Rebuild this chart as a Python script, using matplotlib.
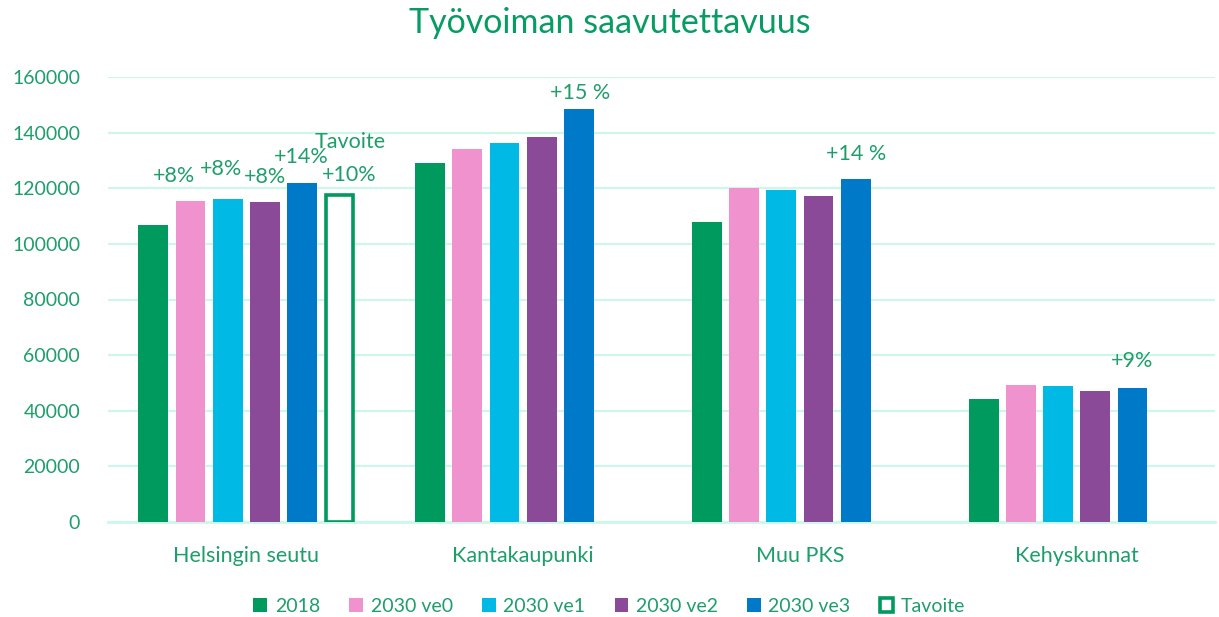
import matplotlib
matplotlib.use("Agg")
import matplotlib.pyplot as plt
import numpy as np

categories = ["Helsingin seutu", "Kantakaupunki", "Muu PKS", "Kehyskunnat"]
series_names = ["2018", "2030 ve0", "2030 ve1", "2030 ve2", "2030 ve3", "Tavoite"]
v2018 = [106800, 128900, 107900, 44300]
v_ve0 = [115500, 134000, 120200, 49400]
v_ve1 = [116000, 136400, 119300, 48800]
v_ve2 = [115100, 138600, 117100, 47000]
v_ve3 = [121900, 148600, 123400, 48300]
v_tavoite = [117400, np.nan, np.nan, np.nan]
yticks = [0, 20000, 40000, 60000, 80000, 100000, 120000, 140000, 160000]

# annotations: (category index, series index, text)
annots = [
    (0, 1, "+8%"), (0, 2, "+8%"), (0, 3, "+8%"), (0, 4, "+14%"),
    (0, 5, "+10%"), (1, 4, "+15 %"), (2, 4, "+14 %"), (3, 4, "+9%"),
]

colors = ["#009A5E", "#F092CD", "#00B9E5", "#8B4A97", "#0079C8", "#009A5E"]
text_col = "#1E9E6A"
title_col = "#079C63"
grid_col = "#CCF8EA"

plt.rcParams['font.family'] = ['Lato', 'DejaVu Sans']

fig = plt.figure(figsize=(12.19, 6.17), dpi=100)
ax = fig.add_axes([108/1219, 95/617, 1107/1219, 445/617])

data = [v2018, v_ve0, v_ve1, v_ve2, v_ve3, v_tavoite]
x = np.arange(len(categories))
step = 0.1345
width = 0.108
handles = []
for i, (vals, c, name) in enumerate(zip(data, colors, series_names)):
    pos = x + (i - 2.5) * step
    if name == "Tavoite":
        b = ax.bar(pos, vals, width * 0.93, facecolor="white", edgecolor=c,
                   linewidth=2.6, label=name, zorder=3)
    else:
        b = ax.bar(pos, vals, width, color=c, label=name, zorder=3)
    handles.append(b)

offsets = {
    (0, 1): (-12, 18), (0, 2): (-5, 22), (0, 3): (0, 18), (0, 4): (-1, 19),
    (0, 5): (7, 15), (1, 4): (1, 11), (2, 4): (0, 18), (3, 4): (0, 19),
}
for ci, si, t in annots:
    xv = x[ci] + (si - 2.5) * step
    yv = data[si][ci]
    dx, dy = offsets[(ci, si)]
    ax.annotate(t, xy=(xv, yv), xytext=(dx, dy), textcoords="offset points",
                ha="center", va="center", color=text_col, fontsize=15.5)
ax.annotate("Tavoite", xy=(x[0] + 2.5 * step, v_tavoite[0]), xytext=(8, 38.5),
            textcoords="offset points", ha="center", va="center",
            color=text_col, fontsize=15.5)

ax.set_ylim(0, 160000)
ax.set_xlim(-0.5, 3.5)
ax.set_yticks(yticks)
ax.set_yticklabels([str(v) for v in yticks])
ax.set_xticks(x)
ax.set_xticklabels(categories)
ax.yaxis.grid(True, color=grid_col, linewidth=1.5, zorder=0)
ax.set_axisbelow(True)
for s in ["top", "right", "left"]:
    ax.spines[s].set_visible(False)
ax.spines["bottom"].set_color(grid_col)
ax.spines["bottom"].set_linewidth(2)
ax.tick_params(axis="both", length=0, colors=text_col)
ax.tick_params(axis="x", pad=17, labelsize=15.5)
ax.tick_params(axis="y", pad=20, labelsize=14)
for lab in ax.get_yticklabels() + ax.get_xticklabels():
    lab.set_color(text_col)

fig.text(0.5, 0.962, "Työvoiman saavutettavuus", ha="center", va="center",
         color=title_col, fontsize=24.5)

leg = fig.legend(handles=handles, labels=series_names, loc="center",
                 bbox_to_anchor=(0.5, 0.017), ncol=6, frameon=False,
                 fontsize=14, handlelength=0.7, handleheight=0.7,
                 handletextpad=0.4, columnspacing=1.5, labelcolor=text_col)

fig.savefig("out.png", dpi=100)
